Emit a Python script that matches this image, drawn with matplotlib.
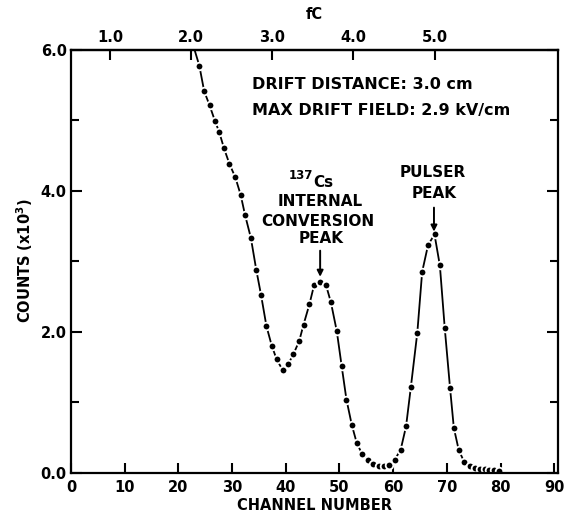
import matplotlib
matplotlib.use("Agg")
import matplotlib.pyplot as plt
from matplotlib.ticker import FixedLocator

# ---- data ----
channel = [22.6, 23.9, 24.8, 25.8, 26.8, 27.6, 28.5, 29.5, 30.6, 31.6, 32.4,
           33.5, 34.5, 35.4, 36.4, 37.4, 38.3, 39.4, 40.5, 41.4, 42.5, 43.3,
           44.4, 45.3, 46.4, 47.5, 48.4, 49.5, 50.4, 51.3, 52.3, 53.2, 54.2,
           55.4, 56.3, 57.4, 58.3, 59.3, 60.3, 61.4, 62.4, 63.3, 64.5, 65.4,
           66.5, 67.7, 68.7, 69.6, 70.6, 71.3, 72.2, 73.2, 74.3, 75.2, 76.2,
           77.1, 77.9, 78.8, 79.7]
counts = [6.10, 5.77, 5.41, 5.21, 4.99, 4.83, 4.60, 4.38, 4.19, 3.94, 3.66,
          3.33, 2.88, 2.52, 2.08, 1.80, 1.61, 1.46, 1.55, 1.68, 1.87, 2.10,
          2.39, 2.67, 2.70, 2.66, 2.42, 2.01, 1.52, 1.04, 0.68, 0.43, 0.27,
          0.19, 0.13, 0.10, 0.10, 0.12, 0.19, 0.33, 0.66, 1.22, 1.99, 2.85,
          3.23, 3.38, 2.94, 2.06, 1.20, 0.64, 0.33, 0.16, 0.10, 0.07, 0.06,
          0.05, 0.04, 0.04, 0.03]

x_ticks = [0, 10, 20, 30, 40, 50, 60, 70, 80, 90]
y_major = [0.0, 2.0, 4.0, 6.0]
fc_ticks = [1.0, 2.0, 3.0, 4.0, 5.0]
fc_labels = ["1.0", "2.0", "3.0", "4.0", "5.0"]
FC_SLOPE, FC_OFFSET = 15.1, -7.8   # channel = slope * fC + offset

plt.rcParams['font.family'] = ['DejaVu Sans']
plt.rcParams['font.weight'] = 'bold'
plt.rcParams['mathtext.fontset'] = 'dejavusans'

fig = plt.figure(figsize=(5.65, 5.19), dpi=100)
ax = fig.add_axes([0.1257, 0.0886, 0.8619, 0.816])

ax.plot(channel, counts, color='black', lw=1.3, marker='o', ms=5.5,
        mfc='black', mec='white', mew=1.3, markevery=slice(1, None),
        solid_capstyle='butt', zorder=2)

ax.set_xlim(0, 90.7)
ax.set_ylim(0, 6.0)

for s in ax.spines.values():
    s.set_linewidth(1.6)

ax.set_xticks(x_ticks)
ax.set_xticklabels([str(v) for v in x_ticks])
ax.set_yticks(y_major)
ax.set_yticklabels(["%.1f" % v for v in y_major])
ax.yaxis.set_minor_locator(FixedLocator([1.0, 3.0, 5.0]))

ax.tick_params(axis='x', which='major', direction='in', length=7, width=1.5,
               pad=5, labelsize=10.5)
ax.tick_params(axis='y', which='major', direction='in', length=8, width=1.5,
               pad=3, labelsize=10.5, right=True)
ax.tick_params(axis='y', which='minor', direction='in', length=6, width=1.5,
               right=True)
for lab in ax.get_xticklabels() + ax.get_yticklabels():
    lab.set_fontweight('bold')

ax.set_xlabel("CHANNEL NUMBER", fontsize=10.5, fontweight='bold', labelpad=2)
ax.set_ylabel(r"COUNTS (x10$^{\mathbf{3}}$)", fontsize=10.5, fontweight='bold',
              labelpad=4)

sec = ax.secondary_xaxis('top', functions=(lambda c: (c - FC_OFFSET) / FC_SLOPE,
                                           lambda f: f * FC_SLOPE + FC_OFFSET))
sec.set_xticks(fc_ticks)
sec.set_xticklabels(fc_labels)
sec.tick_params(direction='in', length=7, width=1.5, pad=3, labelsize=10.5)
for lab in sec.get_xticklabels():
    lab.set_fontweight('bold')
sec.spines['top'].set_linewidth(1.6)
sec.set_xlabel("fC", fontsize=10.5, fontweight='bold', labelpad=8)

# annotations
tk = dict(fontsize=11, fontweight='bold', color='black')
tb = dict(fontsize=11.5, fontweight='bold', color='black')
ax.text(33.7, 5.5, "DRIFT DISTANCE: 3.0 cm", ha='left', va='center', **tb)
ax.text(33.7, 5.13, "MAX DRIFT FIELD: 2.9 kV/cm", ha='left', va='center', **tb)

ax.text(45.0, 4.22, "137", ha='right', va='center', fontsize=8.5, fontweight='bold')
ax.text(45.1, 4.12, "Cs", ha='left', va='center', **tk)
ax.text(46.5, 3.85, "INTERNAL", ha='center', va='center', **tk)
ax.text(45.9, 3.56, "CONVERSION", ha='center', va='center', **tk)
ax.text(46.5, 3.32, "PEAK", ha='center', va='center', **tk)
ax.annotate('', xy=(46.4, 2.78), xytext=(46.4, 3.15),
            arrowprops=dict(arrowstyle='-|>', color='black', lw=1.4,
                            mutation_scale=9, shrinkA=0, shrinkB=0))

ax.text(67.4, 4.26, "PULSER", ha='center', va='center', **tk)
ax.text(67.6, 3.96, "PEAK", ha='center', va='center', **tk)
ax.annotate('', xy=(67.6, 3.42), xytext=(67.6, 3.76),
            arrowprops=dict(arrowstyle='-|>', color='black', lw=1.4,
                            mutation_scale=9, shrinkA=0, shrinkB=0))

fig.savefig("out.png", dpi=100)
